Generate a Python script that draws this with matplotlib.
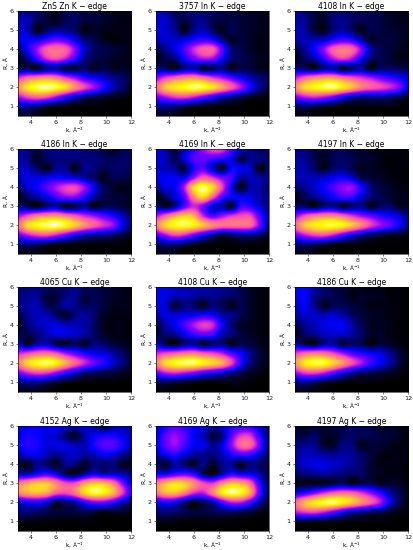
import numpy as np
import matplotlib
matplotlib.use('Agg')
import matplotlib.pyplot as plt

# wavelet maps, in percent of the colour scale
# rows go from R=6 down to R=0.5, columns from k=3 to k=12
k_vals = [3, 3.75, 4.5, 5.25, 6, 6.75, 7.5, 8.25, 9, 9.75, 10.5, 11.25, 12]
r_vals = [6, 5.5, 5, 4.5, 4, 3.5, 3, 2.5, 2, 1.5, 1, 0.5]

titles = ['ZnS Zn K − edge', '3757 In K − edge', '4108 In K − edge',
          '4186 In K − edge', '4169 In K − edge', '4197 In K − edge',
          '4065 Cu K − edge', '4108 Cu K − edge', '4186 Cu K − edge',
          '4152 Ag K − edge', '4169 Ag K − edge', '4197 Ag K − edge']

zns_zn = [[12, 14, 12, 6, 4, 8, 8, 6, 6, 4, 3, 2, 2],
          [18, 18, 8, 6, 3, 8, 10, 6, 6, 4, 3, 2, 2],
          [20, 18, 3, 10, 14, 14, 10, 2, 4, 3, 2, 2, 2],
          [22, 25, 25, 32, 38, 34, 24, 12, 8, 3, 1, 2, 2],
          [10, 26, 44, 60, 64, 60, 42, 20, 10, 8, 6, 4, 2],
          [3, 14, 32, 50, 56, 48, 32, 14, 8, 6, 4, 3, 2],
          [8, 8, 3, 12, 15, 6, 6, 10, 4, 8, 3, 4, 3],
          [52, 62, 68, 70, 66, 54, 44, 32, 26, 20, 14, 10, 6],
          [70, 88, 95, 98, 94, 85, 70, 56, 44, 30, 18, 10, 4],
          [46, 56, 62, 58, 46, 32, 20, 12, 8, 5, 3, 2, 1],
          [16, 16, 12, 6, 3, 2, 1, 1, 1, 1, 0, 0, 0],
          [3, 3, 2, 1, 0, 0, 0, 0, 0, 0, 0, 0, 0]]

in_3757 = [[18, 16, 8, 10, 12, 10, 10, 8, 6, 5, 4, 3, 2],
           [20, 20, 12, 6, 12, 14, 8, 6, 7, 6, 4, 3, 2],
           [22, 20, 14, 3, 14, 18, 10, 3, 8, 6, 4, 3, 2],
           [18, 20, 20, 22, 28, 32, 28, 14, 4, 6, 4, 2, 2],
           [6, 14, 22, 34, 50, 60, 60, 38, 12, 8, 4, 2, 2],
           [2, 8, 12, 28, 38, 46, 44, 26, 12, 8, 6, 3, 2],
           [14, 10, 4, 14, 16, 5, 8, 14, 3, 8, 6, 3, 3],
           [42, 54, 62, 68, 70, 64, 54, 46, 36, 26, 18, 12, 8],
           [62, 80, 88, 92, 96, 94, 86, 74, 60, 46, 28, 14, 6],
           [38, 46, 54, 56, 50, 40, 30, 20, 14, 8, 4, 2, 1],
           [14, 14, 12, 8, 4, 2, 1, 1, 1, 1, 0, 0, 0],
           [3, 3, 2, 1, 0, 0, 0, 0, 0, 0, 0, 0, 0]]

in_4108 = [[16, 12, 6, 4, 10, 10, 9, 8, 8, 6, 4, 3, 2],
           [16, 14, 6, 4, 12, 14, 10, 8, 8, 6, 4, 3, 3],
           [18, 16, 6, 3, 12, 16, 10, 3, 8, 6, 5, 4, 3],
           [16, 18, 18, 20, 28, 34, 30, 16, 4, 6, 6, 4, 3],
           [8, 14, 26, 42, 60, 66, 62, 42, 16, 8, 6, 3, 3],
           [2, 10, 16, 30, 46, 54, 46, 26, 10, 8, 6, 2, 3],
           [14, 10, 4, 14, 16, 5, 10, 14, 3, 10, 10, 8, 8],
           [48, 60, 68, 72, 72, 64, 58, 52, 46, 38, 32, 26, 22],
           [68, 84, 90, 94, 96, 88, 78, 66, 60, 56, 50, 40, 20],
           [40, 48, 52, 48, 40, 28, 18, 14, 14, 14, 12, 8, 4],
           [10, 10, 8, 5, 3, 1, 1, 1, 2, 2, 2, 1, 1],
           [2, 2, 1, 1, 0, 0, 0, 0, 0, 0, 0, 0, 0]]

in_4186 = [[16, 14, 6, 12, 14, 14, 12, 12, 10, 6, 3, 8, 10],
           [18, 12, 4, 10, 12, 12, 12, 12, 12, 10, 8, 10, 10],
           [20, 18, 10, 3, 14, 14, 3, 14, 12, 8, 10, 10, 8],
           [18, 22, 22, 24, 26, 24, 22, 16, 10, 3, 8, 8, 6],
           [12, 20, 26, 36, 46, 54, 56, 44, 24, 10, 4, 2, 3],
           [2, 10, 16, 24, 34, 42, 42, 30, 16, 8, 6, 5, 4],
           [14, 8, 3, 12, 16, 4, 8, 14, 3, 8, 8, 6, 3],
           [44, 56, 66, 70, 72, 66, 58, 50, 44, 36, 28, 18, 10],
           [64, 84, 92, 96, 98, 92, 82, 70, 60, 52, 44, 24, 10],
           [38, 48, 56, 58, 50, 40, 28, 20, 16, 14, 10, 6, 3],
           [12, 12, 10, 6, 3, 2, 1, 1, 1, 1, 1, 1, 0],
           [2, 2, 1, 1, 0, 0, 0, 0, 0, 0, 0, 0, 0]]

in_4169 = [[22, 16, 6, 18, 30, 44, 56, 54, 36, 22, 14, 10, 8],
           [22, 18, 8, 22, 36, 38, 34, 30, 24, 6, 14, 12, 10],
           [20, 18, 14, 6, 28, 36, 20, 4, 26, 24, 20, 2, 10],
           [22, 24, 24, 24, 44, 60, 52, 40, 34, 14, 18, 16, 12],
           [14, 22, 24, 46, 84, 96, 84, 56, 24, 3, 16, 16, 10],
           [2, 10, 22, 36, 68, 84, 62, 36, 26, 24, 22, 16, 12],
           [16, 4, 14, 36, 50, 40, 20, 16, 4, 32, 30, 20, 14],
           [46, 60, 74, 82, 76, 50, 36, 44, 52, 56, 56, 34, 16],
           [66, 84, 92, 94, 90, 80, 70, 64, 64, 64, 62, 40, 12],
           [34, 46, 56, 52, 40, 28, 16, 8, 10, 14, 14, 10, 4],
           [10, 12, 12, 8, 4, 2, 1, 1, 1, 2, 1, 1, 0],
           [2, 2, 1, 0, 0, 0, 0, 0, 0, 0, 0, 0, 0]]

in_4197 = [[14, 12, 7, 4, 8, 8, 6, 4, 3, 2, 2, 2, 2],
           [16, 14, 8, 4, 8, 10, 8, 5, 4, 2, 1, 1, 2],
           [18, 16, 10, 3, 10, 12, 8, 3, 4, 2, 1, 1, 2],
           [18, 18, 18, 20, 24, 26, 20, 8, 5, 4, 2, 1, 1],
           [12, 14, 20, 26, 34, 42, 44, 28, 12, 6, 4, 2, 2],
           [2, 8, 14, 20, 26, 34, 32, 20, 12, 8, 5, 3, 3],
           [12, 10, 3, 12, 14, 5, 10, 14, 3, 10, 10, 4, 4],
           [42, 56, 64, 68, 68, 62, 52, 44, 38, 30, 26, 20, 12],
           [62, 80, 88, 92, 94, 90, 80, 68, 54, 44, 36, 26, 12],
           [38, 48, 56, 58, 50, 38, 26, 16, 10, 6, 4, 3, 2],
           [12, 12, 10, 6, 3, 2, 1, 1, 1, 1, 1, 1, 0],
           [2, 2, 1, 0, 0, 0, 0, 0, 0, 0, 0, 0, 0]]

cu_4065 = [[10, 12, 14, 12, 10, 12, 14, 12, 8, 6, 5, 3, 2],
           [12, 14, 14, 6, 6, 12, 14, 6, 8, 6, 4, 3, 2],
           [12, 16, 18, 8, 8, 16, 14, 8, 10, 6, 3, 3, 2],
           [8, 14, 18, 18, 10, 4, 12, 16, 10, 4, 2, 2, 2],
           [3, 12, 18, 20, 22, 18, 18, 16, 10, 3, 2, 2, 1],
           [8, 8, 12, 18, 22, 22, 20, 16, 10, 4, 2, 2, 1],
           [20, 5, 16, 18, 8, 4, 10, 4, 12, 10, 6, 4, 2],
           [50, 56, 62, 64, 58, 46, 38, 30, 24, 22, 16, 10, 5],
           [66, 84, 92, 96, 90, 76, 62, 50, 38, 30, 20, 12, 5],
           [40, 50, 56, 54, 44, 32, 22, 12, 10, 8, 6, 4, 2],
           [12, 14, 14, 10, 6, 3, 2, 1, 1, 1, 1, 0, 0],
           [3, 3, 2, 1, 0, 0, 0, 0, 0, 0, 0, 0, 0]]

cu_4108 = [[24, 22, 20, 18, 18, 18, 18, 16, 14, 8, 4, 2, 1],
           [24, 22, 18, 18, 16, 14, 14, 12, 10, 8, 4, 2, 1],
           [22, 20, 5, 12, 10, 3, 12, 8, 3, 8, 4, 2, 1],
           [16, 22, 20, 22, 24, 28, 26, 16, 14, 8, 4, 2, 1],
           [6, 16, 24, 34, 46, 54, 50, 26, 12, 4, 3, 2, 1],
           [6, 12, 14, 24, 32, 38, 34, 18, 12, 6, 4, 2, 1],
           [20, 8, 3, 12, 14, 4, 10, 12, 3, 8, 6, 3, 1],
           [50, 56, 60, 64, 66, 60, 56, 48, 36, 26, 14, 6, 2],
           [66, 84, 92, 96, 96, 90, 84, 76, 56, 30, 12, 5, 2],
           [38, 48, 52, 48, 42, 34, 28, 22, 14, 8, 4, 2, 1],
           [8, 8, 6, 4, 2, 1, 1, 2, 2, 2, 1, 0, 0],
           [1, 1, 1, 0, 0, 0, 0, 0, 0, 0, 0, 0, 0]]

cu_4186 = [[22, 26, 18, 12, 8, 6, 4, 3, 2, 2, 1, 1, 1],
           [22, 26, 14, 10, 8, 6, 2, 4, 3, 3, 1, 1, 1],
           [18, 24, 14, 3, 8, 8, 6, 4, 2, 2, 2, 1, 1],
           [16, 20, 20, 18, 20, 16, 10, 6, 4, 3, 2, 1, 1],
           [8, 14, 18, 22, 24, 24, 16, 8, 3, 3, 2, 1, 1],
           [3, 10, 14, 18, 20, 20, 16, 10, 4, 4, 2, 1, 1],
           [18, 8, 4, 14, 16, 6, 10, 8, 2, 6, 4, 2, 1],
           [54, 62, 66, 64, 56, 46, 36, 30, 26, 22, 14, 6, 2],
           [70, 88, 94, 94, 84, 72, 58, 46, 32, 24, 16, 6, 2],
           [44, 54, 56, 50, 38, 26, 16, 10, 8, 6, 4, 2, 1],
           [12, 14, 10, 6, 3, 2, 1, 1, 1, 1, 0, 0, 0],
           [2, 2, 1, 1, 0, 0, 0, 0, 0, 0, 0, 0, 0]]

ag_4152 = [[20, 24, 26, 24, 26, 22, 18, 22, 16, 6, 14, 18, 14],
           [22, 28, 26, 22, 20, 10, 4, 16, 24, 28, 28, 22, 16],
           [24, 30, 28, 22, 22, 22, 18, 18, 28, 36, 36, 28, 16],
           [16, 22, 24, 18, 14, 18, 20, 16, 18, 24, 22, 14, 10],
           [8, 3, 14, 10, 3, 14, 12, 4, 12, 10, 12, 4, 3],
           [20, 16, 26, 32, 24, 8, 4, 14, 24, 18, 20, 16, 12],
           [64, 74, 80, 80, 68, 56, 56, 72, 80, 78, 66, 42, 22],
           [68, 76, 78, 74, 60, 56, 66, 84, 94, 90, 78, 54, 28],
           [22, 26, 28, 22, 6, 10, 16, 30, 40, 40, 32, 18, 8],
           [12, 12, 10, 8, 6, 6, 6, 8, 6, 2, 4, 4, 2],
           [2, 2, 2, 1, 1, 1, 1, 1, 1, 0, 0, 0, 0],
           [0, 0, 0, 0, 0, 0, 0, 0, 0, 0, 0, 0, 0]]

ag_4169 = [[18, 28, 34, 30, 26, 24, 16, 22, 28, 30, 30, 20, 8],
           [22, 36, 44, 36, 24, 18, 6, 12, 36, 52, 52, 30, 10],
           [24, 36, 44, 34, 24, 24, 14, 22, 42, 62, 62, 38, 10],
           [16, 24, 30, 22, 16, 14, 12, 18, 28, 34, 32, 20, 8],
           [10, 4, 16, 10, 4, 14, 4, 14, 14, 3, 12, 10, 5],
           [26, 24, 32, 36, 30, 10, 3, 16, 30, 24, 24, 16, 6],
           [66, 78, 86, 82, 70, 56, 52, 68, 78, 76, 62, 30, 8],
           [64, 76, 78, 68, 52, 48, 66, 88, 96, 92, 74, 34, 8],
           [24, 28, 26, 12, 3, 8, 16, 34, 48, 48, 34, 16, 4],
           [10, 12, 10, 8, 6, 6, 8, 10, 10, 8, 6, 3, 1],
           [2, 2, 2, 1, 1, 1, 1, 1, 1, 1, 0, 0, 0],
           [0, 0, 0, 0, 0, 0, 0, 0, 0, 0, 0, 0, 0]]

ag_4197 = [[4, 3, 6, 5, 6, 8, 10, 8, 8, 3, 5, 3, 2],
           [8, 6, 10, 4, 4, 8, 10, 8, 8, 6, 5, 3, 2],
           [12, 14, 14, 5, 4, 12, 12, 3, 5, 5, 3, 2, 2],
           [14, 18, 18, 16, 14, 16, 14, 10, 6, 2, 2, 2, 2],
           [16, 20, 22, 22, 20, 18, 14, 10, 5, 2, 2, 2, 1],
           [10, 12, 14, 16, 14, 12, 10, 10, 5, 3, 2, 2, 1],
           [3, 3, 3, 3, 6, 10, 4, 8, 8, 3, 5, 3, 1],
           [24, 30, 40, 50, 58, 62, 60, 52, 42, 30, 16, 8, 2],
           [62, 78, 88, 94, 96, 90, 82, 70, 60, 46, 22, 8, 2],
           [48, 54, 56, 50, 40, 28, 18, 14, 10, 8, 4, 2, 1],
           [6, 5, 4, 3, 2, 2, 2, 1, 1, 1, 1, 0, 0],
           [1, 1, 1, 0, 0, 0, 0, 0, 0, 0, 0, 0, 0]]

maps = [zns_zn, in_3757, in_4108,
        in_4186, in_4169, in_4197,
        cu_4065, cu_4108, cu_4186,
        ag_4152, ag_4169, ag_4197]

W, H = 413, 550
lefts = [18, 156, 295]
tops = [11, 149, 287, 426]
aw, ah = 113, 105

fig = plt.figure(figsize=(W / 100, H / 100), dpi=100)

dk = (k_vals[1] - k_vals[0]) / 2
dr = (r_vals[0] - r_vals[1]) / 2

for i in range(12):
    left = lefts[i % 3]
    top = tops[i // 3]
    ax = fig.add_axes([left / W, 1 - (top + ah) / H, aw / W, ah / H])
    ax.imshow(np.array(maps[i]) / 100, cmap='gnuplot2', vmin=0, vmax=1,
              interpolation='catrom', aspect='auto', origin='upper',
              extent=(k_vals[0] - dk, k_vals[-1] + dk, r_vals[-1] - dr, r_vals[0] + dr))
    ax.set_xlim(3, 12)
    ax.set_ylim(0.5, 6)
    ax.set_xticks([4, 6, 8, 10, 12])
    ax.set_yticks([1, 2, 3, 4, 5, 6])
    ax.tick_params(labelsize=4.6, length=1.5, width=0.4, pad=1.5, colors='#222222')
    ax.set_title(titles[i], fontsize=5.5, pad=1.5)
    ax.set_xlabel('k, Å$^{-1}$', fontsize=4.2, labelpad=0)
    ax.set_ylabel('R, Å', fontsize=4.2, labelpad=0.5)
    for s in ax.spines.values():
        s.set_linewidth(0.4)

fig.savefig('out.png', dpi=100)
